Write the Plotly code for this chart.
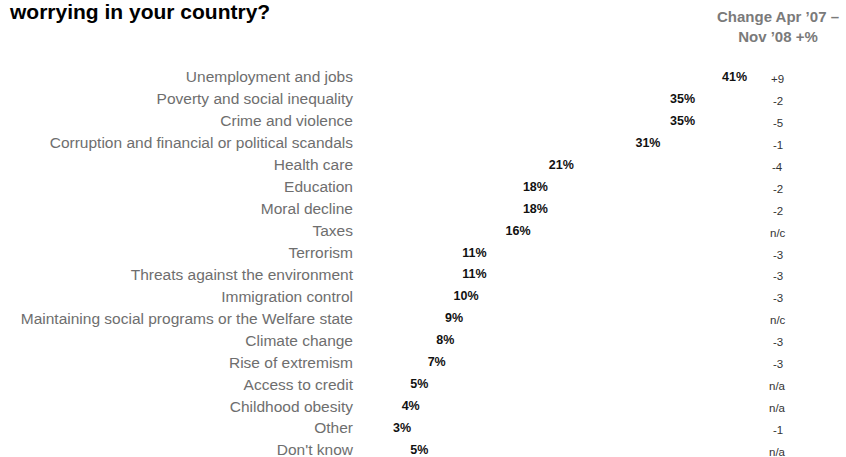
import plotly.graph_objects as go

# Issues and share of respondents naming them (%)
issues = [
    "Unemployment and jobs",
    "Poverty and social inequality",
    "Crime and violence",
    "Corruption and financial or political scandals",
    "Health care",
    "Education",
    "Moral decline",
    "Taxes",
    "Terrorism",
    "Threats against the environment",
    "Immigration control",
    "Maintaining social programs or the Welfare state",
    "Climate change",
    "Rise of extremism",
    "Access to credit",
    "Childhood obesity",
    "Other",
    "Don't know",
]
shares = [41, 35, 35, 31, 21, 18, 18, 16, 11, 11, 10, 9, 8, 7, 5, 4, 3, 5]
changes = ["+9", "-2", "-5", "-1", "-4", "-2", "-2", "n/c", "-3", "-3",
           "-3", "n/c", "-3", "-3", "n/a", "n/a", "-1", "n/a"]

FONT = "Liberation Sans, Arial, sans-serif"
CHANGE_X = 0.956  # paper position of the change column

fig = go.Figure(
    go.Bar(
        x=shares,
        y=issues,
        orientation="h",
        marker=dict(color="rgba(255,255,255,0)", line=dict(width=0)),
        text=[f"{v}%" for v in shares],
        textposition="outside",
        textfont=dict(family=FONT, size=12.5, color="#111111"),
        texttemplate="<b>%{text}</b>",
        cliponaxis=False,
        hoverinfo="skip",
    )
)

# Change column on the right
for issue, ch in zip(issues, changes):
    fig.add_annotation(
        x=CHANGE_X, xref="paper", y=issue, yref="y", yshift=-2,
        text=ch, showarrow=False, xanchor="center",
        font=dict(family=FONT, size=11.5, color="#333333"),
    )

fig.add_annotation(
    x=CHANGE_X, xref="paper", y=1.0, yref="paper", yshift=19,
    text="<b>Change Apr ’07 –<br>Nov ’08 +%</b>", showarrow=False,
    xanchor="center", yanchor="bottom", align="center",
    font=dict(family=FONT, size=15, color="#7a7a7a"),
)

fig.update_layout(
    width=846,
    height=457,
    margin=dict(l=364, r=49, t=66, b=0),
    paper_bgcolor="white",
    plot_bgcolor="white",
    showlegend=False,
    title=dict(
        text="<b>worrying in your country?</b>",
        x=10 / 846, xanchor="left", xref="container",
        y=0.99, yanchor="top", yref="container",
        font=dict(family=FONT, size=21, color="#000000"),
    ),
    xaxis=dict(range=[0, 50], visible=False),
    yaxis=dict(
        range=[17.32, -0.5],
        showgrid=False, zeroline=False, showline=False, ticks="",
        ticklabelstandoff=10,
        tickfont=dict(family=FONT, size=15.5, color="#6e6e6e"),
    ),
    bargap=0.3,
)

fig.write_html("out.html")
